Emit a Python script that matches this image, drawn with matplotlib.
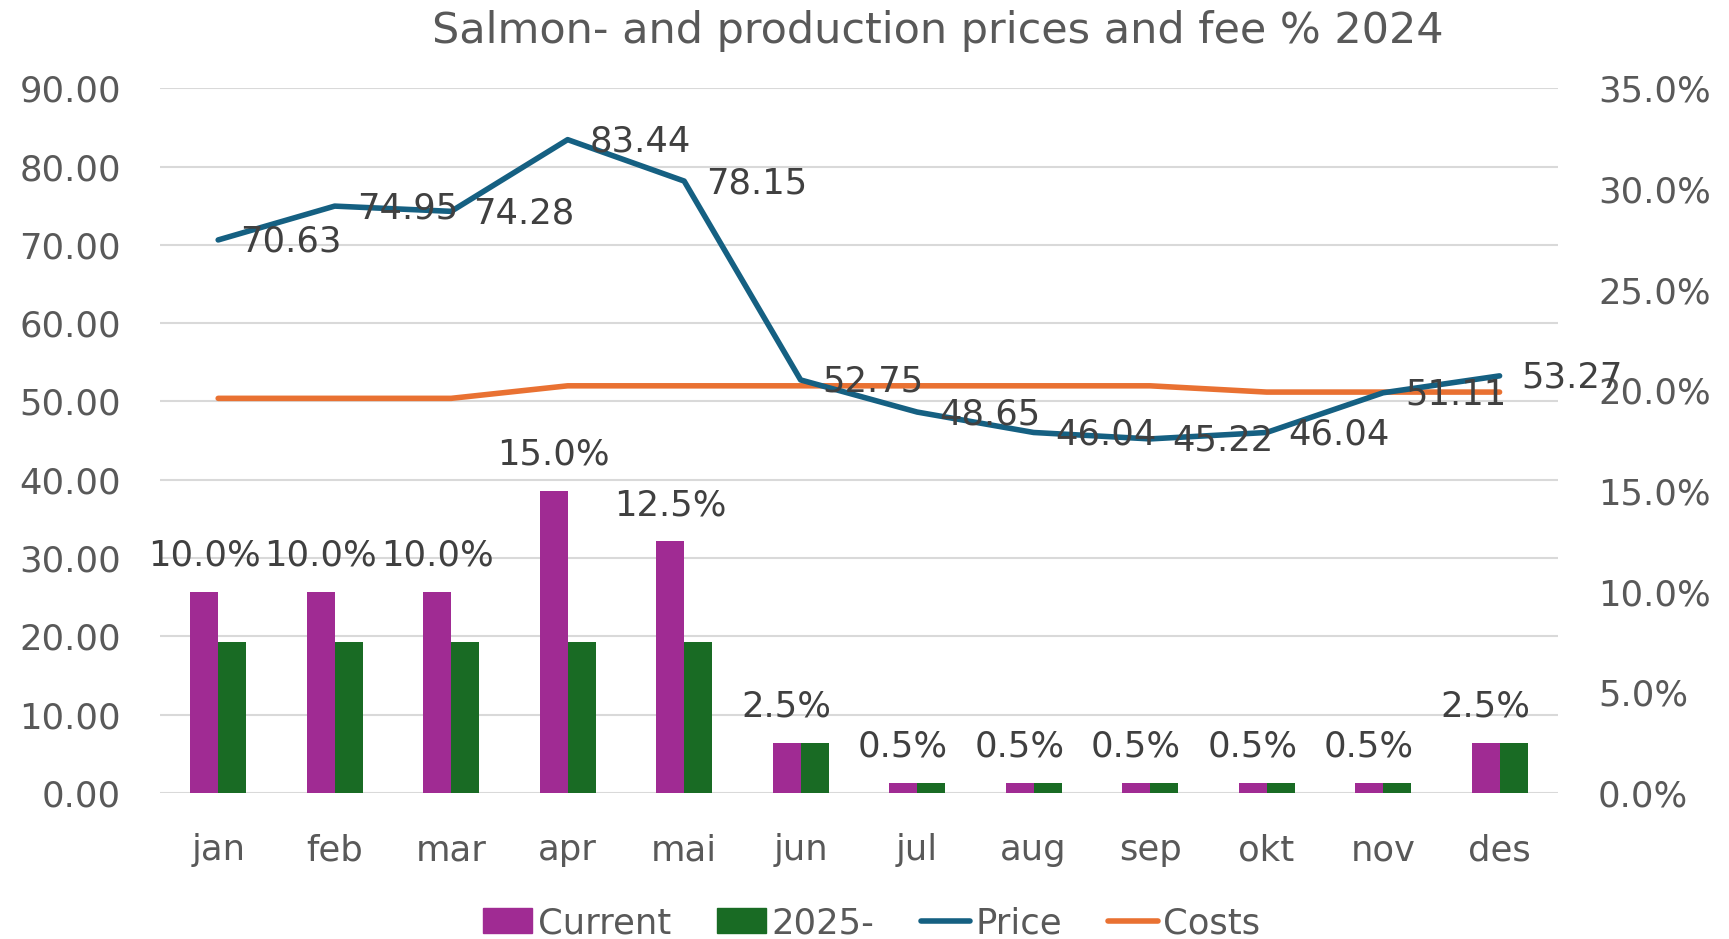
import numpy as np
import matplotlib
matplotlib.use("Agg")
import matplotlib.pyplot as plt
from matplotlib.ticker import FuncFormatter, MultipleLocator
from matplotlib.patches import Patch
from matplotlib.lines import Line2D

months = ['jan', 'feb', 'mar', 'apr', 'mai', 'jun', 'jul', 'aug', 'sep', 'okt', 'nov', 'des']
price = [70.63, 74.95, 74.28, 83.44, 78.15, 52.75, 48.65, 46.04, 45.22, 46.04, 51.11, 53.27]
costs = [50.4, 50.4, 50.4, 52.0, 52.0, 52.0, 52.0, 52.0, 52.0, 51.2, 51.2, 51.2]
fee_current = [0.10, 0.10, 0.10, 0.15, 0.125, 0.025, 0.005, 0.005, 0.005, 0.005, 0.005, 0.025]
fee_2025 = [0.075, 0.075, 0.075, 0.075, 0.075, 0.025, 0.005, 0.005, 0.005, 0.005, 0.005, 0.025]

c_price = '#156082'
c_costs = '#E97132'
c_cur = '#A02B93'
c_new = '#196B24'
c_tick = '#595959'
c_lab = '#404040'
fs = 25.5
lw = 4

plt.rcParams['font.family'] = ['DejaVu Sans']

fig = plt.figure(figsize=(17.29, 9.39), dpi=100)
ax = fig.add_axes([0.0925, 0.1555, 0.8085, 0.7505])
x = np.arange(len(months))

# left axis: grid and labels
ax.set_xlim(-0.5, len(months) - 0.5)
ax.set_ylim(0, 90)
ax.yaxis.set_major_locator(MultipleLocator(10))
ax.yaxis.set_major_formatter(FuncFormatter(lambda v, p: f'{v:.2f}'))
ax.grid(axis='y', color='#D9D9D9', linewidth=1.5)
ax.set_axisbelow(True)
ax.set_xticks(x)
ax.set_xticklabels(months)
ax.tick_params(axis='both', length=0, labelsize=fs, labelcolor=c_tick)
ax.tick_params(axis='y', pad=28)
ax.tick_params(axis='x', pad=29)
for s in ax.spines.values():
    s.set_visible(False)

# right axis: fee bars
ax2 = ax.twinx()
bw = 0.24
ax2.bar(x - bw / 2, fee_current, bw, color=c_cur, zorder=2)
ax2.bar(x + bw / 2, fee_2025, bw, color=c_new, zorder=2)
ax2.set_ylim(0, 0.35)
ax2.yaxis.set_major_locator(MultipleLocator(0.05))
ax2.yaxis.set_major_formatter(FuncFormatter(lambda v, p: f'{v * 100:.1f}%'))
ax2.tick_params(axis='y', length=0, labelsize=fs, labelcolor=c_tick, pad=29)
for s in ax2.spines.values():
    s.set_visible(False)
for xi, v in zip(x, fee_current):
    ax2.annotate(f'{v * 100:.1f}%', (xi - bw / 2, v), xytext=(0, 36), textcoords='offset pixels',
                 ha='center', va='center', fontsize=fs, color=c_lab)

# lines on top, same scale as left axis
ax3 = ax.twinx()
ax3.set_ylim(ax.get_ylim())
ax3.axis('off')
ax3.plot(x, costs, color=c_costs, lw=lw, solid_capstyle='round', solid_joinstyle='round')
ax3.plot(x, price, color=c_price, lw=lw, solid_capstyle='round', solid_joinstyle='round')
for xi, v in zip(x, price):
    ax3.annotate(f'{v:.2f}', (xi, v), xytext=(22, -2), textcoords='offset pixels',
                 ha='left', va='center', fontsize=fs, color=c_lab)

fig.text(0.5425, 0.967, 'Salmon- and production prices and fee % 2024', ha='center', va='center',
         fontsize=31, color=c_tick)

handles = [Patch(color=c_cur), Patch(color=c_new),
           Line2D([], [], color=c_price, lw=lw, solid_capstyle='round'),
           Line2D([], [], color=c_costs, lw=lw, solid_capstyle='round')]
fig.legend(handles, ['Current', '2025-', 'Price', 'Costs'], loc='center', bbox_to_anchor=(0.504, 0.017),
           ncol=4, frameon=False, fontsize=fs, labelcolor=c_tick, handlelength=1.4, handleheight=0.7,
           handletextpad=0.15, columnspacing=1.3)

fig.savefig('out.png', dpi=100)
